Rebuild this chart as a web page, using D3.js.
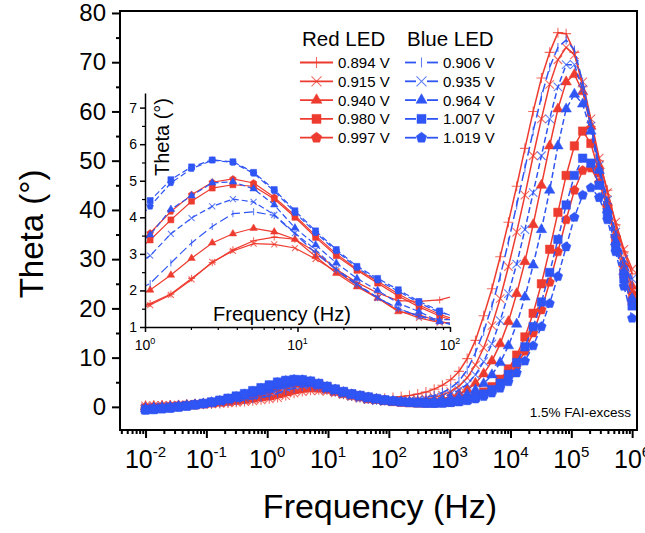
<!DOCTYPE html>
<html>
<head>
<meta charset="utf-8">
<script src="https://cdn.jsdelivr.net/npm/d3@7"></script>
<style>
    body { margin: 0; background: #fff; }
    svg { display: block; }
    text { font-family: "Liberation Sans", Arial, sans-serif; fill: #000; }
</style>
</head>
<body>
<div id="chart"></div>
<script>
// measured frequencies (Hz), 60 points from 10 mHz to 1 MHz
const freqs = [0.01, 0.01367, 0.01868, 0.02551, 0.03486, 0.04764, 0.06511, 0.08897, 0.1216, 0.1661,
    0.2270, 0.3102, 0.4239, 0.5793, 0.7916, 1.081, 1.478, 2.020, 2.760, 3.771,
    5.153, 7.041, 9.619, 13.14, 17.96, 24.54, 33.53, 45.82, 62.60, 85.54,
    116.9, 159.7, 218.3, 298.3, 407.6, 556.9, 761.0, 1040, 1421, 1942,
    2653, 3625, 4954, 6769, 9249, 12640, 17270, 23600, 32250, 44060,
    60210, 82270, 112400, 153600, 209900, 286800, 391900, 535500, 731700, 1000000];

// theta (deg), red LED
const thetaRed0894 = [0.3, 0.3, 0.35, 0.35, 0.4, 0.45, 0.5, 0.55, 0.6, 0.7, 0.8, 0.95, 1.1, 1.25, 1.45,
    1.64, 1.90, 2.33, 2.76, 3.11, 3.36, 3.46, 3.40, 3.05, 2.58, 2.22, 1.93, 1.72, 1.70, 1.74,
    1.9, 2.1, 2.3, 2.6, 3.0, 3.6, 4.4, 5.5, 7.2, 9.8, 13.5, 18.5, 24.0, 30.5, 37.5,
    44.8, 52.5, 60.0, 66.8, 72.0, 76.0, 75.8, 72.0, 65.0, 57.0, 50.0, 44.0, 37.0, 31.5, 27.0];
const thetaRed0915 = [0.2, 0.25, 0.3, 0.3, 0.35, 0.4, 0.45, 0.5, 0.6, 0.7, 0.8, 0.9, 1.05, 1.2, 1.4,
    1.60, 1.88, 2.30, 2.78, 3.08, 3.28, 3.26, 3.16, 2.86, 2.52, 2.15, 1.79, 1.45, 1.25, 1.12,
    1.1, 1.15, 1.25, 1.4, 1.6, 1.9, 2.4, 3.1, 4.2, 5.9, 8.5, 12.0, 16.5, 22.0, 28.5,
    35.5, 43.0, 51.0, 58.5, 65.5, 70.5, 73.0, 71.5, 66.0, 58.5, 50.5, 43.5, 37.5, 32.0, 28.0];
const thetaRed0940 = [0.0, 0.05, 0.1, 0.15, 0.2, 0.3, 0.4, 0.5, 0.6, 0.75, 0.9, 1.1, 1.3, 1.55, 1.8,
    2.01, 2.42, 2.88, 3.30, 3.55, 3.70, 3.60, 3.40, 2.93, 2.47, 2.10, 1.79, 1.42, 1.33, 1.15,
    1.05, 1.0, 1.0, 1.05, 1.15, 1.3, 1.6, 2.0, 2.6, 3.5, 4.8, 6.7, 9.3, 12.8, 17.3,
    23.0, 29.5, 37.0, 45.0, 53.0, 60.5, 66.0, 67.5, 64.0, 57.0, 49.0, 41.5, 35.0, 29.0, 24.5];
const thetaRed0980 = [-0.3, -0.2, -0.1, 0.0, 0.15, 0.3, 0.45, 0.65, 0.85, 1.1, 1.4, 1.75, 2.15, 2.55, 2.95,
    3.38, 3.93, 4.44, 4.80, 4.89, 4.85, 4.50, 4.00, 3.45, 2.95, 2.55, 2.20, 1.85, 1.55, 1.30,
    1.1, 0.95, 0.85, 0.8, 0.8, 0.85, 0.95, 1.1, 1.35, 1.7, 2.2, 3.0, 4.1, 5.6, 7.7,
    10.5, 14.2, 19.0, 25.0, 32.0, 39.5, 47.0, 53.0, 56.0, 53.5, 47.5, 40.5, 33.5, 27.0, 21.5];
const thetaRed0997 = [-0.4, -0.3, -0.2, -0.05, 0.1, 0.25, 0.4, 0.6, 0.85, 1.1, 1.4, 1.8, 2.2, 2.65, 3.1,
    3.57, 4.16, 4.62, 4.96, 5.05, 4.94, 4.55, 4.05, 3.50, 3.00, 2.58, 2.25, 1.90, 1.60, 1.35,
    1.15, 1.0, 0.9, 0.85, 0.8, 0.8, 0.85, 0.95, 1.15, 1.45, 1.85, 2.5, 3.4, 4.6, 6.2,
    8.4, 11.3, 15.0, 19.7, 25.3, 31.5, 38.0, 44.0, 48.0, 48.5, 45.5, 40.5, 34.5, 28.5, 23.0];

// theta (deg), blue LED
const thetaBlue0906 = [0.0, 0.05, 0.1, 0.15, 0.25, 0.3, 0.4, 0.5, 0.65, 0.8, 0.95, 1.15, 1.4, 1.65, 1.9,
    2.19, 2.75, 3.30, 3.75, 4.10, 4.15, 4.05, 3.55, 3.02, 2.56, 2.15, 1.80, 1.50, 1.30, 1.20,
    1.2, 1.3, 1.4, 1.6, 1.9, 2.3, 2.9, 3.8, 5.2, 7.5, 11.0, 15.3, 20.5, 26.5, 33.5,
    41.0, 48.5, 56.0, 63.0, 69.0, 73.0, 74.5, 72.5, 66.0, 57.5, 49.0, 41.5, 35.0, 29.5, 25.0];
const thetaBlue0935 = [-0.2, -0.1, 0.0, 0.1, 0.2, 0.3, 0.45, 0.6, 0.8, 1.0, 1.25, 1.55, 1.9, 2.25, 2.6,
    2.95, 3.55, 3.98, 4.30, 4.50, 4.42, 4.07, 3.57, 3.11, 2.58, 2.18, 1.80, 1.51, 1.29, 1.15,
    1.05, 1.1, 1.15, 1.25, 1.4, 1.65, 2.0, 2.6, 3.4, 4.6, 6.5, 9.2, 12.8, 17.5, 23.0,
    29.0, 36.0, 43.5, 51.0, 58.5, 65.0, 69.5, 69.5, 64.5, 57.0, 49.0, 42.0, 35.5, 30.0, 26.0];
const thetaBlue0964 = [-0.4, -0.3, -0.2, -0.05, 0.1, 0.25, 0.4, 0.6, 0.85, 1.1, 1.4, 1.75, 2.2, 2.65, 3.1,
    3.52, 4.22, 4.59, 4.94, 4.97, 4.78, 4.34, 3.71, 3.25, 2.75, 2.33, 2.00, 1.65, 1.42, 1.15,
    1.0, 0.9, 0.85, 0.85, 0.9, 1.0, 1.2, 1.5, 1.9, 2.5, 3.4, 4.7, 6.5, 9.0, 12.4,
    16.8, 22.3, 28.8, 36.0, 44.0, 53.0, 60.5, 63.5, 61.5, 56.0, 48.0, 40.0, 33.5, 27.5, 22.0];
const thetaBlue1007 = [-0.6, -0.5, -0.35, -0.2, 0.0, 0.2, 0.45, 0.7, 1.0, 1.35, 1.75, 2.2, 2.7, 3.3, 3.9,
    4.46, 5.03, 5.38, 5.57, 5.52, 5.23, 4.76, 4.18, 3.63, 3.12, 2.66, 2.33, 2.02, 1.70, 1.44,
    1.2, 1.0, 0.9, 0.8, 0.75, 0.75, 0.8, 0.95, 1.15, 1.45, 1.9, 2.6, 3.5, 4.8, 6.6,
    9.0, 12.2, 16.3, 21.3, 27.3, 34.0, 41.0, 47.0, 50.5, 49.5, 45.0, 39.0, 32.5, 26.0, 20.5];
const thetaBlue1019 = [-0.7, -0.6, -0.45, -0.3, -0.1, 0.1, 0.35, 0.6, 0.9, 1.25, 1.65, 2.1, 2.6, 3.15, 3.75,
    4.30, 4.94, 5.33, 5.56, 5.50, 5.20, 4.72, 4.13, 3.58, 3.08, 2.62, 2.28, 1.98, 1.66, 1.40,
    1.25, 1.05, 0.9, 0.8, 0.75, 0.7, 0.75, 0.85, 1.0, 1.25, 1.6, 2.1, 2.8, 3.8, 5.1,
    6.9, 9.3, 12.4, 16.3, 21.0, 26.5, 32.5, 38.5, 43.0, 44.5, 42.5, 38.0, 31.5, 24.5, 18.0];

const redLabels = ['0.894 V', '0.915 V', '0.940 V', '0.980 V', '0.997 V'];
const blueLabels = ['0.906 V', '0.935 V', '0.964 V', '1.007 V', '1.019 V'];

const yTicks = [0, 10, 20, 30, 40, 50, 60, 70, 80];
const xTicks = [1e-2, 1e-1, 1, 1e1, 1e2, 1e3, 1e4, 1e5, 1e6];
const insetYTicks = [1, 2, 3, 4, 5, 6, 7];
const insetXTicks = [1, 10, 100];

const colors = {
    red: '#ee3b2f',
    blue: '#2f55f4'
};

const redSeries = [
    { label: redLabels[0], values: thetaRed0894, marker: 'plus' },
    { label: redLabels[1], values: thetaRed0915, marker: 'times' },
    { label: redLabels[2], values: thetaRed0940, marker: 'triangle' },
    { label: redLabels[3], values: thetaRed0980, marker: 'square' },
    { label: redLabels[4], values: thetaRed0997, marker: 'pentagon' }
];
const blueSeries = [
    { label: blueLabels[0], values: thetaBlue0906, marker: 'bar', dash: '9,4' },
    { label: blueLabels[1], values: thetaBlue0935, marker: 'times', dash: '6,3' },
    { label: blueLabels[2], values: thetaBlue0964, marker: 'triangle', dash: '6,3' },
    { label: blueLabels[3], values: thetaBlue1007, marker: 'square', dash: '6,3' },
    { label: blueLabels[4], values: thetaBlue1019, marker: 'pentagon', dash: '6,3' }
];

// marker shapes, size = width squared
const shapes = {
    plus: { stroke: true, draw(ctx, size) {
        const r = Math.sqrt(size) / 2;
        ctx.moveTo(-r, 0); ctx.lineTo(r, 0);
        ctx.moveTo(0, -r); ctx.lineTo(0, r);
    } },
    times: { stroke: true, draw(ctx, size) {
        const r = Math.sqrt(size) / 2;
        ctx.moveTo(-r, -r); ctx.lineTo(r, r);
        ctx.moveTo(-r, r); ctx.lineTo(r, -r);
    } },
    bar: { stroke: true, draw(ctx, size) {
        const r = Math.sqrt(size) / 2;
        ctx.moveTo(0, -r); ctx.lineTo(0, r);
    } },
    triangle: { draw(ctx, size) {
        const w = Math.sqrt(size);
        ctx.moveTo(0, -0.577 * w);
        ctx.lineTo(w / 2, 0.289 * w);
        ctx.lineTo(-w / 2, 0.289 * w);
        ctx.closePath();
    } },
    square: { draw(ctx, size) {
        const r = Math.sqrt(size) / 2;
        ctx.rect(-r, -r, 2 * r, 2 * r);
    } },
    pentagon: { draw(ctx, size) {
        const r = Math.sqrt(size) / 2;
        for (let k = 0; k < 5; k++) {
            const a = -Math.PI / 2 + k * 2 * Math.PI / 5;
            if (k === 0) ctx.moveTo(r * Math.cos(a), r * Math.sin(a));
            else ctx.lineTo(r * Math.cos(a), r * Math.sin(a));
        }
        ctx.closePath();
    } }
};

const markerWidth = {
    main: { plus: 10, times: 8.5, bar: 9, triangle: 10.5, square: 8.5, pentagon: 10 },
    inset: { plus: 7, times: 6, bar: 7, triangle: 7.5, square: 6, pentagon: 7 },
    legend: { plus: 11, times: 10, bar: 10, triangle: 11, square: 9, pentagon: 11 }
};

const width = 645, height = 533;
const svg = d3.select('#chart')
    .append('svg')
    .attr('width', width)
    .attr('height', height);

const x = d3.scaleLog().domain([Math.pow(10, -2.42), Math.pow(10, 6.08)]).range([120, 637]);
const y = d3.scaleLinear().domain([-4.7, 80.4]).range([430, 11]);

const xi = d3.scaleLog().domain([1, 100]).range([145, 450]);
const yi = d3.scaleLinear().domain([1, 7.4]).range([327, 93]);

function addMarkers(g, pts, s, color, xs, ys, w) {
    const shape = shapes[s.marker];
    const sym = d3.symbol().type(shape).size(w * w);
    g.selectAll(null)
        .data(pts)
        .join('path')
        .attr('transform', d => `translate(${xs(d[0])},${ys(d[1])})`)
        .attr('d', sym)
        .attr('fill', shape.stroke ? 'none' : color)
        .attr('stroke', color)
        .attr('stroke-width', shape.stroke ? 1.1 : 0.5)
        .attr('stroke-opacity', shape.stroke ? 0.75 : 1);
}

function drawSeries(g, s, color, xs, ys, opts) {
    const pts = freqs.map((f, i) => [f, s.values[i]]);
    const linePts = pts.filter(d => d[0] >= opts.lineMin && d[0] <= opts.lineMax);
    g.append('path')
        .datum(linePts)
        .attr('d', d3.line().x(d => xs(d[0])).y(d => ys(d[1])))
        .attr('fill', 'none')
        .attr('stroke', color)
        .attr('stroke-width', opts.lineWidth)
        .attr('stroke-dasharray', s.dash || null);
    const markPts = pts.filter(d => d[0] >= opts.markMin && d[0] <= opts.markMax);
    addMarkers(g, markPts, s, color, xs, ys, markerWidth[opts.kind][s.marker]);
}

// ---- main plot ----
svg.append('clipPath').attr('id', 'main-clip')
    .append('rect').attr('x', 120).attr('y', 11).attr('width', 517).attr('height', 419);

const mainData = svg.append('g').attr('clip-path', 'url(#main-clip)');
const mainOpts = { kind: 'main', lineWidth: 1.5, lineMin: 0, lineMax: 1e7, markMin: 0, markMax: 1e7 };
redSeries.forEach(s => drawSeries(mainData, s, colors.red, x, y, mainOpts));
blueSeries.forEach(s => drawSeries(mainData, s, colors.blue, x, y, mainOpts));

svg.append('rect')
    .attr('x', 120).attr('y', 11)
    .attr('width', 517).attr('height', 419)
    .attr('fill', 'none')
    .attr('stroke', '#000')
    .attr('stroke-width', 2);

// y axis
svg.append('g')
    .attr('transform', 'translate(120,0)')
    .call(d3.axisLeft(y).tickValues(yTicks).tickSize(8).tickPadding(6))
    .attr('font-size', 24)
    .attr('font-family', '"Liberation Sans", Arial, sans-serif')
    .call(g => g.select('.domain').remove())
    .call(g => g.selectAll('line').attr('stroke-width', 2));

svg.append('g')
    .attr('transform', 'translate(120,0)')
    .call(d3.axisLeft(y).tickValues(d3.range(5, 80, 10)).tickSize(4).tickFormat(''))
    .call(g => g.select('.domain').remove())
    .call(g => g.selectAll('line').attr('stroke-width', 2));

// x axis
const xMinor = [];
for (let e = -3; e <= 6; e++) {
    for (let k = 2; k <= 9; k++) {
        const v = k * Math.pow(10, e);
        if (v > x.domain()[0] && v < x.domain()[1]) xMinor.push(v);
    }
}

svg.append('g')
    .attr('transform', 'translate(0,430)')
    .call(d3.axisBottom(x).tickValues(xTicks).tickSize(8).tickFormat(''))
    .call(g => g.select('.domain').remove())
    .call(g => g.selectAll('line').attr('stroke-width', 2));

svg.append('g')
    .attr('transform', 'translate(0,430)')
    .call(d3.axisBottom(x).tickValues(xMinor).tickSize(4).tickFormat(''))
    .call(g => g.select('.domain').remove())
    .call(g => g.selectAll('line').attr('stroke-width', 2));

const xLabels = svg.append('g')
    .selectAll('text')
    .data(xTicks)
    .join('text')
    .attr('x', d => x(d))
    .attr('y', 468)
    .attr('text-anchor', 'middle')
    .attr('font-size', 25);
xLabels.append('tspan').text('10');
xLabels.append('tspan')
    .attr('dy', -11)
    .attr('font-size', 15)
    .text(d => Math.round(Math.log10(d)));

svg.append('text')
    .attr('transform', 'translate(43,234) rotate(-90)')
    .attr('text-anchor', 'middle')
    .attr('font-size', 33)
    .text('Theta (°)');

svg.append('text')
    .attr('x', 380)
    .attr('y', 518)
    .attr('text-anchor', 'middle')
    .attr('font-size', 34)
    .text('Frequency (Hz)');

svg.append('text')
    .attr('x', 631)
    .attr('y', 417)
    .attr('text-anchor', 'end')
    .attr('font-size', 13.5)
    .text('1.5% FAI-excess');

// ---- inset ----
svg.append('clipPath').attr('id', 'inset-clip')
    .append('rect').attr('x', 145).attr('y', 88).attr('width', 305).attr('height', 240);

const insetData = svg.append('g').attr('clip-path', 'url(#inset-clip)');
const insetOpts = { kind: 'inset', lineWidth: 1.2, lineMin: 0.7, lineMax: 150, markMin: 1, markMax: 100 };
redSeries.forEach(s => drawSeries(insetData, s, colors.red, xi, yi, insetOpts));
blueSeries.forEach(s => drawSeries(insetData, s, colors.blue, xi, yi, insetOpts));

svg.append('g')
    .attr('transform', 'translate(145,0)')
    .call(d3.axisLeft(yi).tickValues(insetYTicks).tickSize(5).tickSizeOuter(0).tickPadding(3)
        .tickFormat(d3.format('d')))
    .attr('font-size', 14)
    .attr('font-family', '"Liberation Sans", Arial, sans-serif')
    .call(g => g.selectAll('line, path').attr('stroke-width', 1.5));

svg.append('g')
    .attr('transform', 'translate(145,0)')
    .call(d3.axisLeft(yi).tickValues(d3.range(1.5, 7.4, 1)).tickSize(3).tickFormat(''))
    .call(g => g.select('.domain').remove())
    .call(g => g.selectAll('line').attr('stroke-width', 1.2));

const xiMinor = [2, 3, 4, 5, 6, 7, 8, 9, 20, 30, 40, 50, 60, 70, 80, 90];

svg.append('g')
    .attr('transform', 'translate(0,327)')
    .call(d3.axisBottom(xi).tickValues(insetXTicks).tickSize(5).tickSizeOuter(0).tickFormat(''))
    .call(g => g.selectAll('line, path').attr('stroke-width', 1.5));

svg.append('g')
    .attr('transform', 'translate(0,327)')
    .call(d3.axisBottom(xi).tickValues(xiMinor).tickSize(3).tickFormat(''))
    .call(g => g.select('.domain').remove())
    .call(g => g.selectAll('line').attr('stroke-width', 1.2));

const xiLabels = svg.append('g')
    .selectAll('text')
    .data(insetXTicks)
    .join('text')
    .attr('x', d => xi(d))
    .attr('y', 350)
    .attr('text-anchor', 'middle')
    .attr('font-size', 14);
xiLabels.append('tspan').text('10');
xiLabels.append('tspan')
    .attr('dy', -6)
    .attr('font-size', 9)
    .text(d => Math.round(Math.log10(d)));

svg.append('text')
    .attr('transform', 'translate(169,98) rotate(-90)')
    .attr('text-anchor', 'end')
    .attr('font-size', 20)
    .text('Theta (°)');

svg.append('text')
    .attr('x', 213)
    .attr('y', 321)
    .attr('font-size', 20)
    .text('Frequency (Hz)');

// ---- legend ----
const legend = svg.append('g');
legend.append('text').attr('x', 302).attr('y', 46).attr('font-size', 20.5).text('Red LED');
legend.append('text').attr('x', 407).attr('y', 46).attr('font-size', 20.5).text('Blue LED');

function legendRow(s, i, color, x0, split) {
    const yy = 62.5 + i * 18.8;
    const row = legend.append('g');
    if (split) {
        row.append('line').attr('x1', x0).attr('x2', x0 + 11).attr('y1', yy).attr('y2', yy)
            .attr('stroke', color).attr('stroke-width', 1.8);
        row.append('line').attr('x1', x0 + 22).attr('x2', x0 + 33).attr('y1', yy).attr('y2', yy)
            .attr('stroke', color).attr('stroke-width', 1.8);
    } else {
        row.append('line').attr('x1', x0).attr('x2', x0 + 33).attr('y1', yy).attr('y2', yy)
            .attr('stroke', color).attr('stroke-width', 1.8);
    }
    addMarkers(row, [[x0 + 16.5, yy]], s, color, d => d, d => d, markerWidth.legend[s.marker]);
    row.append('text')
        .attr('x', x0 + 38)
        .attr('y', yy)
        .attr('dy', '0.36em')
        .attr('font-size', 15)
        .text(s.label);
}

redSeries.forEach((s, i) => legendRow(s, i, colors.red, 300, false));
blueSeries.forEach((s, i) => legendRow(s, i, colors.blue, 405, true));
</script>
</body>
</html>
